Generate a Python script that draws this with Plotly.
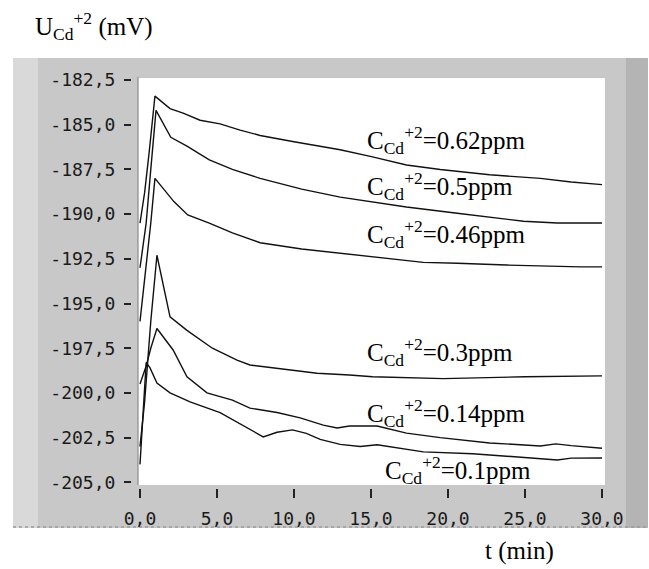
import plotly.graph_objects as go

# ---------------- data ----------------
t_062 = [0, 0.3, 0.6, 0.97, 1.95, 2.8, 3.9, 5.2, 6.5, 7.8, 10, 13, 15.1, 17.3, 19.5, 22.7, 26, 28, 30]
u_062 = [-190.5, -188.8, -186.5, -183.4, -184.1, -184.35, -184.75, -184.95, -185.3, -185.6,
         -185.95, -186.4, -186.8, -187.25, -187.5, -187.8, -188.0, -188.2, -188.35]

t_05 = [0, 0.4, 0.7, 1.04, 2.0, 3.05, 4.5, 6.0, 7.8, 10.5, 13, 15.1, 17.3, 20.6, 22.7, 24.9, 27.1, 30]
u_05 = [-193.0, -190.5, -187.5, -184.2, -185.7, -186.2, -186.97, -187.5, -188.0, -188.6,
        -189.05, -189.3, -189.6, -189.95, -190.15, -190.4, -190.5, -190.5]

t_046 = [0, 0.4, 0.7, 0.97, 2.2, 3.1, 4.5, 6.0, 7.8, 10.5, 13, 15.1, 18.4, 20.6, 23.8, 28.6, 30]
u_046 = [-196.0, -193.0, -190.5, -188.0, -189.3, -190.05, -190.5, -191.05, -191.6, -191.95,
         -192.2, -192.4, -192.7, -192.75, -192.85, -192.95, -192.95]

t_03 = [0, 0.3, 0.7, 1.1, 1.95, 3.05, 4.7, 6.3, 7.14, 9.3, 11.5, 13.6, 15.1, 19.7, 25, 30]
u_03 = [-203.0, -200.5, -196.0, -192.3, -195.75, -196.5, -197.5, -198.17, -198.44, -198.66,
        -198.9, -199.0, -199.1, -199.2, -199.1, -199.05]

t_014 = [0, 0.4, 0.7, 1.1, 2.15, 3.05, 4.35, 6.0, 7.14, 8.9, 10.4, 11.9, 12.8, 13.6, 15.4,
         17.3, 19.5, 22.7, 26, 27, 28, 30]
u_014 = [-199.5, -198.5, -197.5, -196.4, -197.6, -199.1, -200.0, -200.4, -200.85, -201.1,
         -201.4, -201.8, -201.96, -201.85, -201.85, -202.25, -202.5, -202.8, -202.97, -202.85,
         -202.95, -203.1]

t_01 = [0, 0.2, 0.4, 0.65, 1.1, 1.95, 3.25, 5.2, 7.14, 8.0, 8.9, 9.9, 10.8, 11.7, 13, 14.3,
        15.4, 18.4, 21.6, 25, 27.1, 28, 30]
u_01 = [-204.0, -201.0, -198.3, -198.6, -199.45, -200.0, -200.5, -201.1, -202.07, -202.46,
        -202.2, -202.07, -202.26, -202.6, -202.88, -203.0, -202.9, -203.3, -203.4, -203.6,
        -203.75, -203.65, -203.64]

conc_labels = ["0.62", "0.5", "0.46", "0.3", "0.14", "0.1"]
label_t = [14.6, 14.6, 14.6, 14.6, 14.6, 15.8]
label_u = [-185.86, -188.43, -191.11, -197.71, -201.12, -204.31]

x_tickvals = [0, 5, 10, 15, 20, 25, 30]
x_ticktext = ["0,0", "5,0", "10,0", "15,0", "20,0", "25,0", "30,0"]
y_tickvals = [-182.5, -185.0, -187.5, -190.0, -192.5, -195.0, -197.5, -200.0, -202.5, -205.0]
y_ticktext = ["-182,5", "-185,0", "-187,5", "-190,0", "-192,5", "-195,0", "-197,5",
              "-200,0", "-202,5", "-205,0"]

series_t = [t_062, t_05, t_046, t_03, t_014, t_01]
series_u = [u_062, u_05, u_046, u_03, u_014, u_01]

# ---------------- figure ----------------
W, H = 649, 569
L, R, T, B = 132, 44, 77, 81
pw, ph = W - L - R, H - T - B


def px_x(p):
    return (p - L) / pw


def px_y(p):
    return (H - B - p) / ph


PANEL = "#c8c8c8"
SERIF = "Liberation Serif, Times New Roman, serif"
MONO = "DejaVu Sans Mono, monospace"

fig = go.Figure()
for t, u, c in zip(series_t, series_u, conc_labels):
    fig.add_trace(go.Scatter(x=t, y=u, mode="lines", name=c,
                             line=dict(color="#111111", width=1.4),
                             showlegend=False, hoverinfo="skip"))

shapes = [
    # grey instrument panel
    dict(type="rect", xref="paper", yref="paper", layer="below",
         x0=px_x(13), x1=px_x(648), y0=px_y(528), y1=px_y(58),
         fillcolor=PANEL, line=dict(width=0)),
    # left lighter textured strip
    dict(type="rect", xref="paper", yref="paper", layer="below",
         x0=px_x(13), x1=px_x(38), y0=px_y(528), y1=px_y(58),
         fillcolor="#d9d9d9", line=dict(width=0)),
    # right darker textured strip
    dict(type="rect", xref="paper", yref="paper", layer="below",
         x0=px_x(626), x1=px_x(648), y0=px_y(528), y1=px_y(58),
         fillcolor="#b4b4b4", line=dict(width=0)),
    # bottom dotted edge
    dict(type="line", xref="paper", yref="paper", layer="below",
         x0=px_x(13), x1=px_x(648), y0=px_y(527), y1=px_y(527),
         line=dict(color="#9a9a9a", width=1.5, dash="dot")),
    # white plotting area
    dict(type="rect", xref="x", yref="y", layer="below",
         x0=-0.13, x1=30.19, y0=-205.15, y1=-182.33,
         fillcolor="white", line=dict(width=0)),
    # inset frame (left & top)
    dict(type="line", xref="x", yref="y", layer="below",
         x0=-0.13, x1=-0.13, y0=-205.15, y1=-182.33,
         line=dict(color="#8a8a8a", width=1.2)),
    dict(type="line", xref="x", yref="y", layer="below",
         x0=-0.13, x1=30.19, y0=-182.33, y1=-182.33,
         line=dict(color="#8a8a8a", width=1.2)),
]

annotations = []
for c, xt, yu in zip(conc_labels, label_t, label_u):
    annotations.append(dict(
        x=xt, y=yu, xref="x", yref="y", xanchor="left", yanchor="middle",
        text="C<sub>Cd</sub><sup>+2</sup>=" + c + "ppm", showarrow=False,
        font=dict(family=SERIF, size=25, color="black")))

annotations.append(dict(
    x=px_x(33), y=px_y(26), xref="paper", yref="paper", xanchor="left", yanchor="middle",
    text="U<sub>Cd</sub><sup>+2</sup> (mV)", showarrow=False,
    font=dict(family=SERIF, size=25, color="black")))
annotations.append(dict(
    x=px_x(483), y=px_y(551), xref="paper", yref="paper", xanchor="left", yanchor="middle",
    text="t (min)", showarrow=False,
    font=dict(family=SERIF, size=25, color="black")))

fig.update_layout(
    width=W, height=H,
    margin=dict(l=L, r=R, t=T, b=B, pad=0),
    paper_bgcolor="white", plot_bgcolor=PANEL,
    shapes=shapes, annotations=annotations,
    xaxis=dict(range=[(132 - 140) / 15.4, (605 - 140) / 15.4],
               tickmode="array", tickvals=x_tickvals, ticktext=x_ticktext,
               ticks="outside", ticklen=9, tickwidth=1.5, tickcolor="#222222",
               showgrid=False, zeroline=False, showline=False,
               ticklabelstandoff=5,
               tickfont=dict(family=MONO, size=18, color="#1a1a1a")),
    yaxis=dict(range=[-205.32, -182.33],
               tickmode="array", tickvals=y_tickvals, ticktext=y_ticktext,
               ticks="outside", ticklen=7, tickwidth=1.5, tickcolor="#222222",
               showgrid=False, zeroline=False, showline=False,
               ticklabelstandoff=5,
               tickfont=dict(family=MONO, size=18, color="#1a1a1a")),
)

fig.write_html("out.html",
               config={"displayModeBar": False},
               post_script="document.body.style.margin='0';document.body.style.padding='0';")
